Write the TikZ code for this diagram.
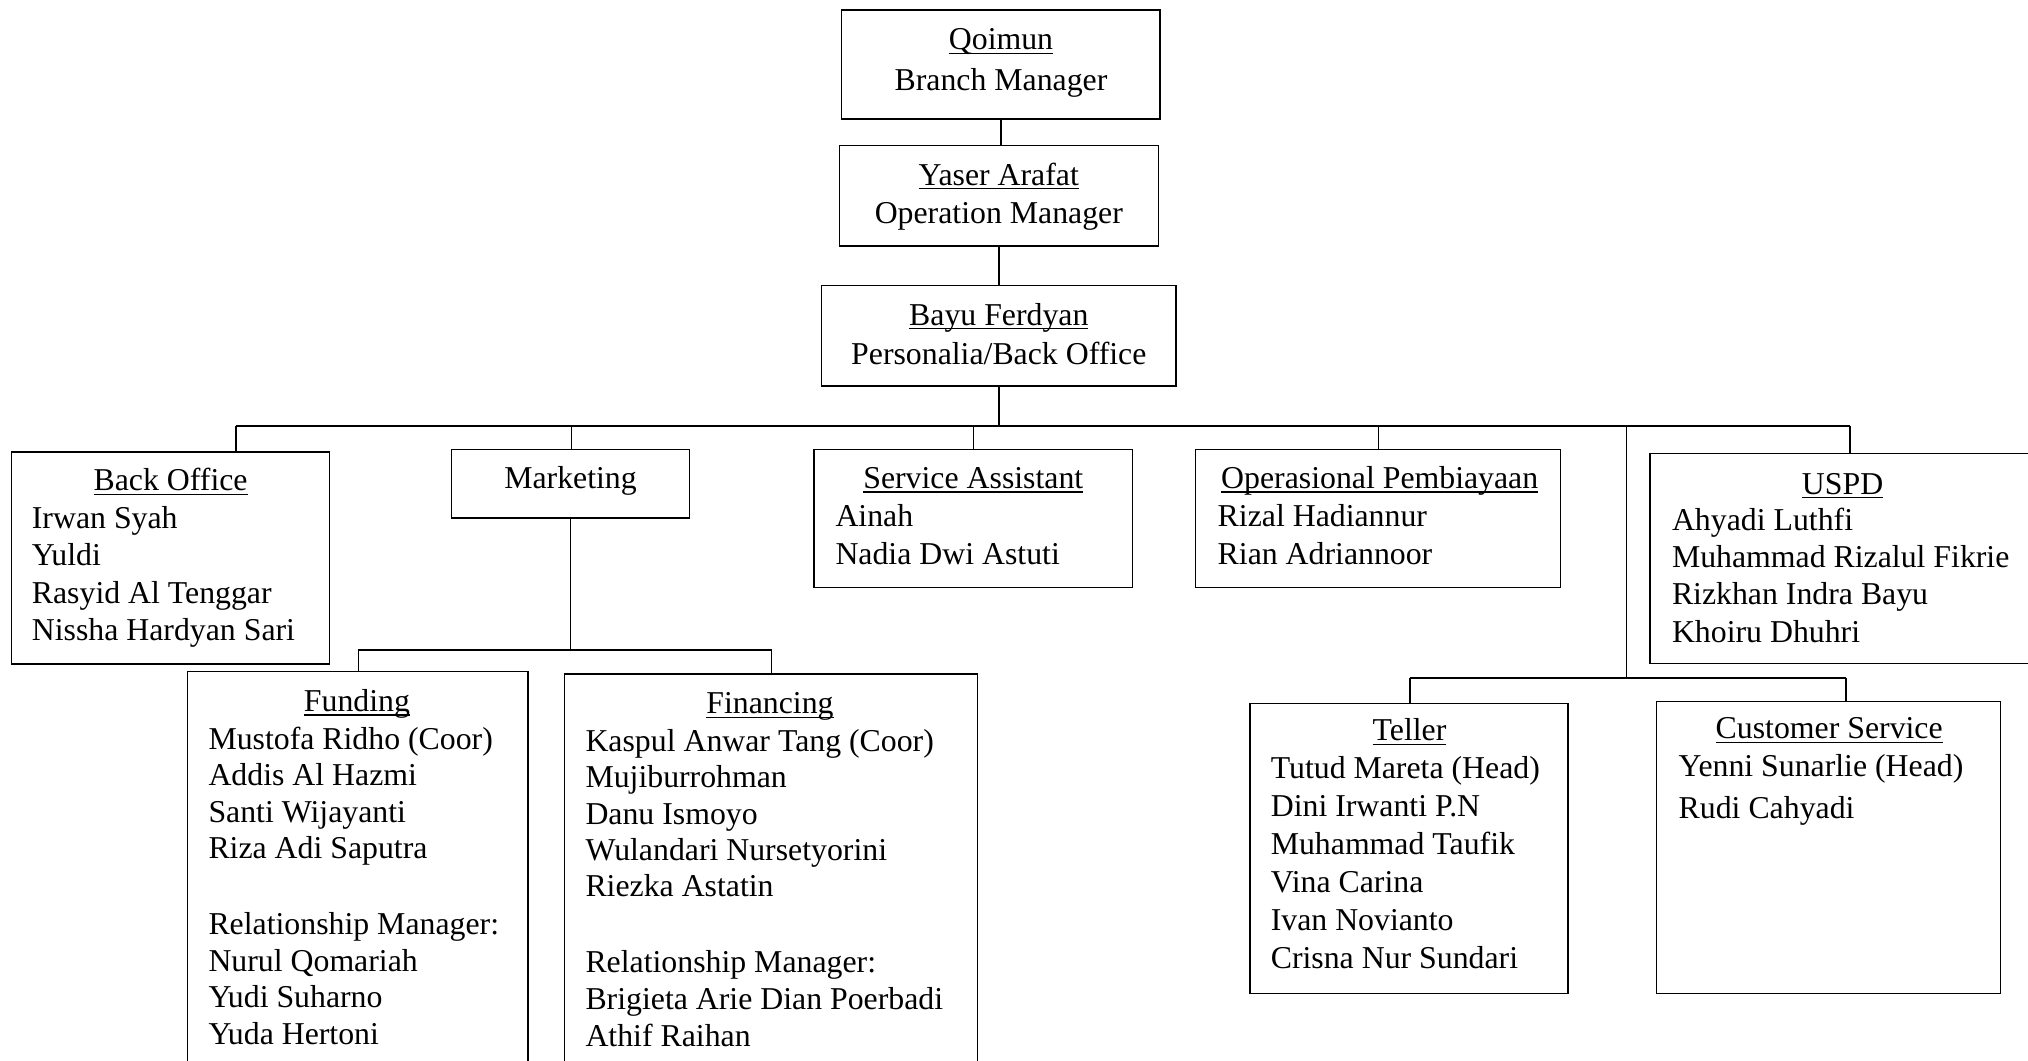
\documentclass[tikz,border=0pt]{standalone}
\usepackage{fontspec}
\setmainfont{Liberation Serif}
\usetikzlibrary{fit}
\newcommand{\ulx}[1]{\setbox0\hbox{#1}\rlap{\rule[-2.2pt]{\wd0}{0.7pt}}\box0}
\newcommand{\namerows}[5]{%
  \foreach \t [count=\i] in {#5} {\node[txt, anchor=base west] (#1-\i) at (#2, {#3+#4*(\i-1)}) {\t};}}
\tikzset{
  box/.style={draw, line width=0.7pt, inner sep=0pt, outer sep=0pt, rectangle},
  txt/.style={font=\fontsize{15.9pt}{19pt}\selectfont, inner sep=0pt, outer sep=0pt},
  conn/.style={draw, line width=0.7pt}
}
\begin{document}
\begin{tikzpicture}[x=0.5pt,y=-0.5pt]
\useasboundingbox (0,0) rectangle (2028,1060);
\fill[white] (0,0) rectangle (2028,1060);
% boxes
\node[box, fit={(841.7,10) (1160,119)}] (qoimun) {};
\node[box, fit={(839.3,145.7) (1158.3,246)}] (yaser) {};
\node[box, fit={(821.7,285.7) (1176,386)}] (bayu) {};
\node[box, fit={(11.5,451.8) (329.7,663.9)}] (bo) {};
\node[box, fit={(451.5,449.7) (689.4,517.8)}] (mkt) {};
\node[box, fit={(813.8,449.7) (1132.5,587.7)}] (sa) {};
\node[box, fit={(1195.4,449.7) (1560.7,587.7)}] (op) {};
\node[box, fit={(1650,453.5) (2040,663.5)}] (uspd) {};
\node[box, fit={(187.5,671.5) (528,1080)}] (fund) {};
\node[box, fit={(564.4,674) (977.7,1080)}] (fin) {};
\node[box, fit={(1249.8,703.5) (1567.9,993.4)}] (teller) {};
\node[box, fit={(1656.7,701.7) (2000.5,993.4)}] (cs) {};
% connectors
\coordinate (busL) at (236,426);
\coordinate (busR) at (1850,426);
\coordinate (jM) at (571.4,426);
\coordinate (jS) at (973.3,426);
\coordinate (jO) at (1378.4,426);
\coordinate (jT) at (1626.2,426);
\coordinate (mL) at (358.4,650);
\coordinate (mR) at (771.7,650);
\coordinate (tL) at (1409.8,678);
\coordinate (tR) at (1845.9,678);
\draw[conn] (qoimun.south) -- (qoimun.south |- yaser.north);
\draw[conn] (yaser.south) -- (yaser.south |- bayu.north);
\draw[conn] (bayu.south) -- (bayu.south |- busL);
\draw[conn] (busL) -- (busR);
\draw[conn] (busL) -- (busL |- bo.north);
\draw[conn] (jM) -- (jM |- mkt.north);
\draw[conn] (jS) -- (jS |- sa.north);
\draw[conn] (jO) -- (jO |- op.north);
\draw[conn] (busR) -- (busR |- uspd.north);
\draw[conn] (jT) -- (jT |- tL);
\draw[conn] (tL) -- (tR);
\draw[conn] (tL) -- (tL |- teller.north);
\draw[conn] (tR) -- (tR |- cs.north);
\draw[conn] (mkt.south) -- (mkt.south |- mL);
\draw[conn] (mL) -- (mR);
\draw[conn] (mL) -- (mL |- fund.north);
\draw[conn] (mR) -- (mR |- fin.north);
% top texts
\node[txt, anchor=base] (qoimunT) at (1001,49.5) {\ulx{Qoimun}};
\node[txt, anchor=base] (qoimunR) at (1001,90.7) {Branch Manager};
\node[txt, anchor=base] (yaserT) at (998.8,185) {\ulx{Yaser Arafat}};
\node[txt, anchor=base] (yaserR) at (998.8,223.3) {Operation Manager};
\node[txt, anchor=base] (bayuT) at (998.8,325) {\ulx{Bayu Ferdyan}};
\node[txt, anchor=base] (bayuR) at (998.8,364) {Personalia/Back Office};
% Back Office
\node[txt, anchor=base] (boT) at (170.6,490.5) {\ulx{Back Office}};
\namerows{bo}{31.9}{528.4}{37.3}{Irwan Syah,Yuldi,Rasyid Al Tenggar,Nissha Hardyan Sari}
% Marketing
\node[txt, anchor=base] (mktT) at (570.5,488.4) {Marketing};
% Service Assistant
\node[txt, anchor=base] (saT) at (973.3,488.4) {\ulx{Service Assistant}};
\namerows{sa}{835.5}{526.3}{37.8}{Ainah,Nadia Dwi Astuti}
% Operasional
\node[txt, anchor=base] (opT) at (1379.7,488.4) {\ulx{Operasional Pembiayaan}};
\namerows{op}{1217.7}{526.3}{37.8}{Rizal Hadiannur,Rian Adriannoor}
% USPD
\node[txt, anchor=base] (uspdT) at (1842.6,494) {\ulx{USPD}};
\namerows{uspd}{1672}{530.5}{37.2}{Ahyadi Luthfi,Muhammad Rizalul Fikrie,Rizkhan Indra Bayu,Khoiru Dhuhri}
% Funding
\node[txt, anchor=base] (fundT) at (357,711.4) {\ulx{Funding}};
\namerows{funda}{208.5}{749.3}{36.5}{Mustofa Ridho (Coor),Addis Al Hazmi,Santi Wijayanti,Riza Adi Saputra}
\namerows{fundb}{208.5}{934.5}{36.5}{Relationship Manager:,Nurul Qomariah,Yudi Suharno,Yuda Hertoni}
% Financing
\node[txt, anchor=base] (finT) at (770,713.6) {\ulx{Financing}};
\namerows{fina}{585.5}{751.4}{36.3}{Kaspul Anwar Tang (Coor),Mujiburrohman,Danu Ismoyo,Wulandari Nursetyorini,Riezka Astatin}
\namerows{finb}{585.5}{972.4}{36.8}{Relationship Manager:,Brigieta Arie Dian Poerbadi,Athif Raihan}
% Teller
\node[txt, anchor=base] (tellerT) at (1409.5,740.9) {\ulx{Teller}};
\namerows{teller}{1270.8}{778.8}{37.9}{Tutud Mareta (Head),Dini Irwanti P.N,Muhammad Taufik,Vina Carina,Ivan Novianto,Crisna Nur Sundari}
% Customer Service
\node[txt, anchor=base] (csT) at (1829.2,738.8) {\ulx{Customer Service}};
\namerows{cs}{1678.7}{776.7}{42}{Yenni Sunarlie (Head),Rudi Cahyadi}
\end{tikzpicture}
\end{document}
